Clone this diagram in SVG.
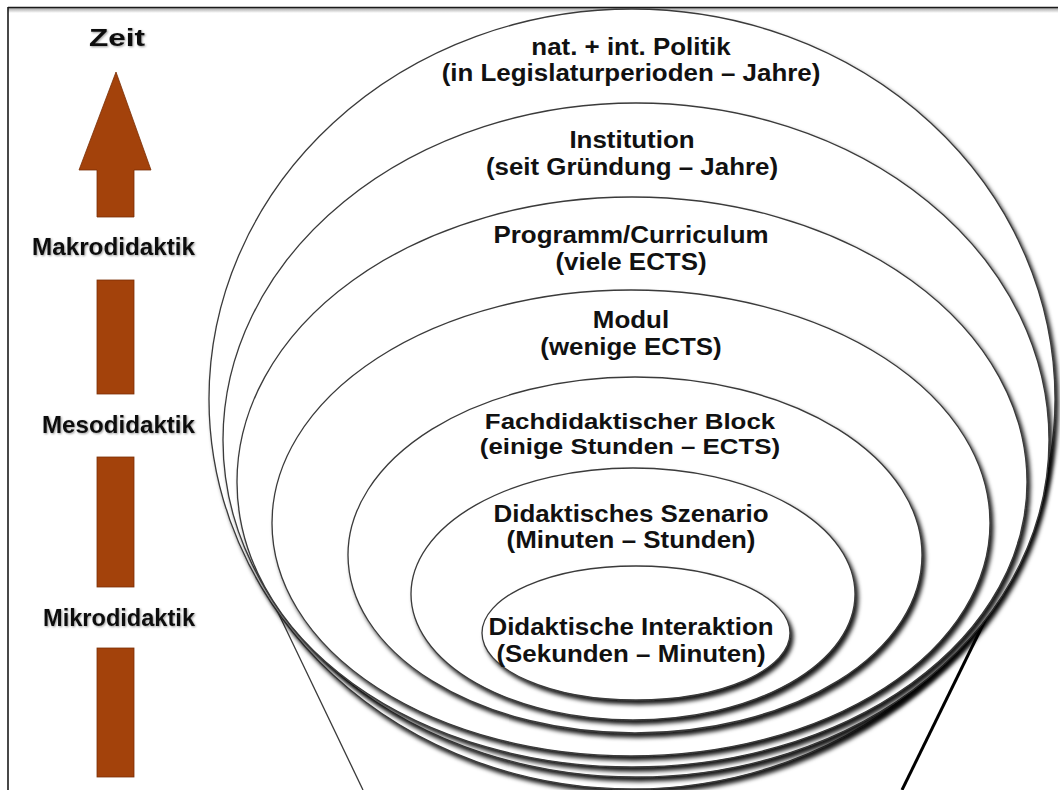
<svg xmlns="http://www.w3.org/2000/svg" width="1060" height="790" viewBox="0 0 1060 790">
<defs>
  <filter id="sh" x="-10%" y="-10%" width="125%" height="125%">
    <feGaussianBlur in="SourceAlpha" stdDeviation="2.3"/>
    <feOffset dx="3" dy="3.5" result="b"/>
    <feFlood flood-color="#000" flood-opacity="0.9"/>
    <feComposite in2="b" operator="in"/>
    <feMerge><feMergeNode/><feMergeNode in="SourceGraphic"/></feMerge>
  </filter>
  <filter id="tsh" x="-10%" y="-30%" width="130%" height="170%">
    <feDropShadow dx="1" dy="1" stdDeviation="1" flood-color="#000" flood-opacity="0.4"/>
  </filter>
  <linearGradient id="topsh" x1="0" y1="0" x2="0" y2="1">
    <stop offset="0" stop-color="#000" stop-opacity="0.35"/>
    <stop offset="1" stop-color="#000" stop-opacity="0"/>
  </linearGradient>
</defs>
<style>
  .ell { fill:#fff; stroke:#3a3a3a; stroke-width:1.3; filter:url(#sh); }
  .lab { font-family:"Liberation Sans", Arial, Helvetica, sans-serif; font-weight:bold; font-size:24px; fill:#111; text-anchor:middle; }
  .sm { font-size:22.5px; }
  .side { font-family:"Liberation Sans", Arial, Helvetica, sans-serif; font-weight:bold; font-size:24px; fill:#111; filter:url(#tsh); }
  .bar { fill:#A3420B; stroke:#7a2f06; stroke-width:0.8; }
  .frame { stroke:#1a1a1a; stroke-width:1.6; fill:none; }
</style>
<rect width="1060" height="790" fill="#fff"/>

<g id="frame">
  <rect x="8" y="8" width="1050" height="5" fill="url(#topsh)"/>
  <line class="frame" x1="8" y1="7.5" x2="1058" y2="7.5"/>
  <line class="frame" x1="8" y1="7" x2="8" y2="790"/>
</g>

<g id="time-axis">
  <polygon class="bar" points="116,72 151,170 134,170 134,217 97,217 97,170 79,170"/>
  <rect class="bar" x="97" y="280" width="37" height="114"/>
  <rect class="bar" x="97" y="457" width="37" height="130"/>
  <rect class="bar" x="97" y="648" width="37" height="129"/>
  <text class="side" x="89" y="46" font-size="27" textLength="56" lengthAdjust="spacingAndGlyphs">Zeit</text>
  <text class="side" x="32" y="255" textLength="163" lengthAdjust="spacingAndGlyphs">Makrodidaktik</text>
  <text class="side" x="42" y="433" textLength="153" lengthAdjust="spacingAndGlyphs">Mesodidaktik</text>
  <text class="side" x="43" y="626" textLength="152" lengthAdjust="spacingAndGlyphs">Mikrodidaktik</text>
</g>

<g id="connectors">
  <line x1="272" y1="600" x2="363" y2="790" stroke="#3a3a3a" stroke-width="1.3"/>
  <line x1="995" y1="600" x2="902" y2="790" stroke="#000" stroke-width="3"/>
</g>

<g id="politik">
  <ellipse class="ell" cx="632" cy="399" rx="423" ry="390"/>
  <g transform="translate(631 0) scale(1.08 1)">
    <text class="lab" x="0" y="55">nat. + int. Politik</text>
    <text class="lab" x="0" y="81">(in Legislaturperioden – Jahre)</text>
  </g>
</g>
<g id="institution">
  <ellipse class="ell" cx="636" cy="440" rx="413" ry="337"/>
  <g transform="translate(632 0) scale(1.08 1)">
    <text class="lab" x="0" y="148">Institution</text>
    <text class="lab" x="0" y="175">(seit Gründung – Jahre)</text>
  </g>
</g>
<g id="programm">
  <ellipse class="ell" cx="632" cy="482" rx="395" ry="285"/>
  <g transform="translate(631 0) scale(1.08 1)">
    <text class="lab" x="0" y="243">Programm/Curriculum</text>
    <text class="lab" x="0" y="270">(viele ECTS)</text>
  </g>
</g>
<g id="modul">
  <ellipse class="ell" cx="631" cy="523" rx="359" ry="233"/>
  <g transform="translate(631 0) scale(1.08 1)">
    <text class="lab" x="0" y="328">Modul</text>
    <text class="lab" x="0" y="355">(wenige ECTS)</text>
  </g>
</g>
<g id="fachdidaktik">
  <ellipse class="ell" cx="635" cy="555" rx="287" ry="178"/>
  <g transform="translate(630 0) scale(1.15 1)">
    <text class="lab sm" x="0" y="429">Fachdidaktischer Block</text>
    <text class="lab sm" x="0" y="454">(einige Stunden – ECTS)</text>
  </g>
</g>
<g id="szenario">
  <ellipse class="ell" cx="633" cy="594" rx="222" ry="126"/>
  <g transform="translate(631 0) scale(1.08 1)">
    <text class="lab" x="0" y="522">Didaktisches Szenario</text>
    <text class="lab" x="0" y="548">(Minuten – Stunden)</text>
  </g>
</g>
<g id="interaktion">
  <ellipse class="ell" cx="636" cy="633" rx="154" ry="67"/>
  <g transform="translate(631 0) scale(1.08 1)">
    <text class="lab" x="0" y="635">Didaktische Interaktion</text>
    <text class="lab" x="0" y="662">(Sekunden – Minuten)</text>
  </g>
</g>
</svg>
